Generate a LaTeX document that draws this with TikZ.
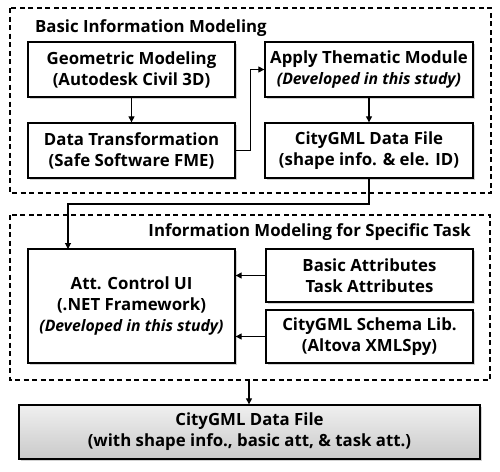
\documentclass[tikz,border=0pt]{standalone}
\usepackage{fontspec}
\setmainfont{Open Sans}
\usetikzlibrary{arrows.meta,shadows}
\begin{document}
\begin{tikzpicture}[x=1pt,y=-1pt,
  box/.style={draw=black,line width=1.3pt,fill=white,align=center,inner sep=0pt,
    font=\bfseries\fontsize{16.8}{21}\selectfont,
    drop shadow={shadow xshift=1.5pt,shadow yshift=-1.5pt,opacity=0.35,fill=gray}},
  group/.style={draw=black,line width=1.1pt,dash pattern=on 5pt off 3.5pt},
  title/.style={font=\bfseries\fontsize{16.8}{21}\selectfont,inner sep=0pt},
  arr/.style={line width=1.1pt,-{Triangle[length=6pt,width=6pt]}}]
\useasboundingbox (0,0) rectangle (500,471);
% groups
\draw[group] (10,8) rectangle (491,193);
\draw[group] (10,215) rectangle (490,380);
\node[title,anchor=west] (t1) at (35,28) {Basic Information Modeling};
\node[title,anchor=east] (t2) at (471,232) {Information Modeling for Specific Task};
% top boxes
\node[box,minimum width=207pt,minimum height=55pt] (geo) at (131.5,69.5) {Geometric Modeling\\(Autodesk Civil 3D)};
\node[box,minimum width=207pt,minimum height=55pt] (dt) at (131.5,150.5) {Data Transformation\\(Safe Software FME)};
\node[box,minimum width=208pt,minimum height=55pt] (atm) at (369,69.5) {Apply Thematic Module\\{\itshape\fontsize{15.8}{21}\selectfont(Developed in this study)}};
\node[box,minimum width=208pt,minimum height=55pt] (cg) at (369,150.5) {CityGML Data File\\(shape info. \& ele. ID)};
% bottom group boxes
\node[box,minimum width=207pt,minimum height=114pt] (att) at (131.5,306) {Att. Control UI\\(.NET Framework)\\{\itshape\fontsize{15.8}{21}\selectfont(Developed in this study)}};
\node[box,minimum width=207pt,minimum height=53pt] (ba) at (369.5,275.5) {Basic Attributes\\Task Attributes};
\node[box,minimum width=207pt,minimum height=53pt] (sl) at (369.5,336.5) {CityGML Schema Lib.\\(Altova XMLSpy)};
% final box
\node[box,top color=gray!12,bottom color=gray!42,minimum width=461pt,minimum height=54pt] (fin) at (249.5,432) {CityGML Data File\\(with shape info., basic att, \& task att.)};
% connectors
\coordinate (g2b) at (249,380);
\draw[arr] (geo) -- (dt);
\draw[arr] (dt.east) -- ++(15,0) |- (atm.west);
\draw[arr] (atm) -- (cg);
\draw[arr] (cg.south) -- (369,204) -| (68,249);
\draw[arr] (ba.west) -- (att.east |- ba.west);
\draw[arr] (sl.west) -- (att.east |- sl.west);
\draw[arr] (g2b) -- (fin.north -| g2b);
\end{tikzpicture}
\end{document}
